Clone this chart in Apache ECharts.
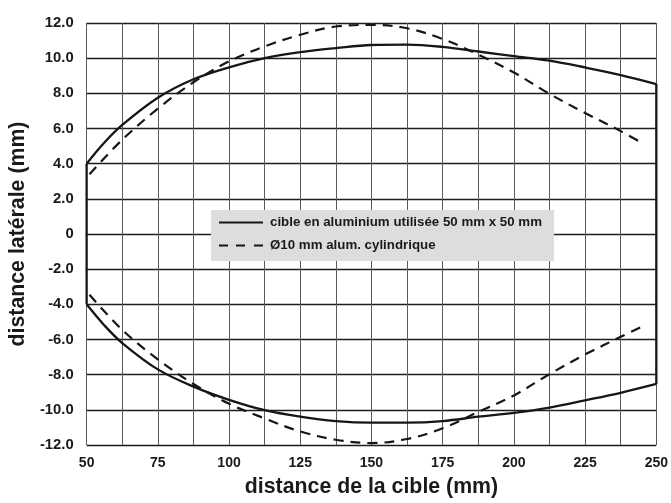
<!DOCTYPE html>
<html><head><meta charset="utf-8">
<script src="https://cdn.jsdelivr.net/npm/echarts@6/dist/echarts.min.js"></script>
<style>html,body{margin:0;padding:0;background:#fff}#c{width:671px;height:503px}</style>
</head><body><div id="c"></div>
<script>
const solidName = 'cible en aluminium utilisée 50 mm x 50 mm';
const dashName = 'Ø10 mm alum. cylindrique';
const xTicks = [50, 75, 100, 125, 150, 175, 200, 225, 250];

const solidTopX = [50, 56.25, 62.5, 75, 87.5, 100, 112.5, 125, 137.5, 150, 162.5, 175, 187.5, 200, 212.5, 225, 237.5, 250];
const solidTopY = [4.0, 5.2, 6.2, 7.75, 8.8, 9.48, 10.0, 10.34, 10.57, 10.75, 10.77, 10.64, 10.38, 10.12, 9.86, 9.47, 9.04, 8.53];
const solidBotX = [50, 56.25, 62.5, 75, 87.5, 100, 112.5, 125, 137.5, 150, 162.5, 175, 187.5, 200, 212.5, 225, 237.5, 250];
const solidBotY = [-4.0, -5.2, -6.2, -7.7, -8.68, -9.43, -10.02, -10.39, -10.64, -10.73, -10.73, -10.64, -10.39, -10.17, -9.87, -9.46, -9.03, -8.53];
const solidEdgeLeft = [[50, -4.0], [50, 4.0]];
const solidEdgeRight = [[250, 8.53], [250, -8.53]];

const dashTopX = [51, 62.5, 75, 87.5, 100, 112.5, 125, 137.5, 150, 162.5, 175, 187.5, 200, 212.5, 225, 237.5, 245];
const dashTopY = [3.4, 5.36, 7.13, 8.63, 9.82, 10.67, 11.33, 11.8, 11.89, 11.7, 11.09, 10.2, 9.18, 7.97, 6.88, 5.85, 5.17];
const dashBotX = [51, 62.5, 75, 87.5, 100, 112.5, 125, 137.5, 150, 162.5, 175, 187.5, 200, 212.5, 225, 237.5, 245];
const dashBotY = [-3.46, -5.45, -7.13, -8.53, -9.65, -10.49, -11.23, -11.7, -11.89, -11.66, -11.05, -10.12, -9.18, -7.97, -6.85, -5.85, -5.27];

const zip = (xs, ys) => xs.map((x, i) => [x, ys[i]]);
const black = '#161616';
const fontTxt = '"Liberation Sans", Arial, Helvetica, sans-serif';

const solidStyle = { color: black, width: 2.3, type: 'solid' };
const dashStyle = { color: black, width: 2.2, type: [10, 7] };

const chart = echarts.init(document.getElementById('c'), null, { renderer: 'canvas' });
chart.setOption({
  animation: false,
  backgroundColor: '#fff',
  grid: { left: 83, right: 14, top: 23, bottom: 51, containLabel: false },
  legend: {
    orient: 'vertical', left: 211, top: 210,
    backgroundColor: '#dcdddf', padding: [6, 12, 9, 8],
    itemWidth: 44, itemHeight: 14, itemGap: 10,
    textStyle: { fontFamily: fontTxt, fontWeight: 'bold', fontSize: 13.3, color: '#1a1a1a', padding: [0, 0, 0, 2] },
    data: [
      { name: solidName, icon: 'path://M0,6L44,6L44,8L0,8Z' },
      { name: dashName, icon: 'path://M0,6L9,6L9,8L0,8ZM17,6L26,6L26,8L17,8ZM35,6L44,6L44,8L35,8Z' }
    ]
  },
  xAxis: {
    type: 'value', min: 50, max: 250, interval: 12.5,
    name: 'distance de la cible (mm)', nameLocation: 'middle', nameGap: 32,
    nameTextStyle: { fontFamily: fontTxt, fontWeight: 'bold', fontSize: 21.3, color: '#1a1a1a' },
    axisLine: { show: false }, axisTick: { show: false },
    axisLabel: {
      margin: 11, fontFamily: fontTxt, fontWeight: 'bold', fontSize: 14, color: '#1a1a1a',
      formatter: v => xTicks.indexOf(v) >= 0 ? String(v) : ''
    },
    splitLine: { show: true, lineStyle: { color: '#5a5a5a', width: 1 } }
  },
  yAxis: {
    type: 'value', min: -12, max: 12, interval: 2,
    name: 'distance latérale (mm)', nameLocation: 'middle', nameGap: 52, nameRotate: 90,
    nameTextStyle: { fontFamily: fontTxt, fontWeight: 'bold', fontSize: 21.3, color: '#1a1a1a' },
    axisLine: { show: false }, axisTick: { show: false },
    axisLabel: {
      margin: 13, fontFamily: fontTxt, fontWeight: 'bold', fontSize: 14.8, color: '#1a1a1a',
      formatter: v => v === 0 ? '0' : v.toFixed(1)
    },
    splitLine: { show: true, lineStyle: { color: '#1e1e1e', width: 1.3 } }
  },
  series: [
    { name: solidName, type: 'line', data: zip(solidTopX, solidTopY), smooth: 0.35, symbol: 'none', lineStyle: solidStyle, itemStyle: { color: black }, z: 5 },
    { name: solidName, type: 'line', data: zip(solidBotX, solidBotY), smooth: 0.35, symbol: 'none', lineStyle: solidStyle, itemStyle: { color: black }, z: 5 },
    { name: solidName, type: 'line', data: solidEdgeLeft, symbol: 'none', lineStyle: solidStyle, itemStyle: { color: black }, z: 5 },
    { name: solidName, type: 'line', data: solidEdgeRight, symbol: 'none', lineStyle: solidStyle, itemStyle: { color: black }, z: 5 },
    { name: dashName, type: 'line', data: zip(dashTopX, dashTopY), smooth: 0.35, symbol: 'none', lineStyle: dashStyle, itemStyle: { color: black }, z: 5 },
    { name: dashName, type: 'line', data: zip(dashBotX, dashBotY), smooth: 0.35, symbol: 'none', lineStyle: dashStyle, itemStyle: { color: black }, z: 5 }
  ]
});
</script>
</body></html>
